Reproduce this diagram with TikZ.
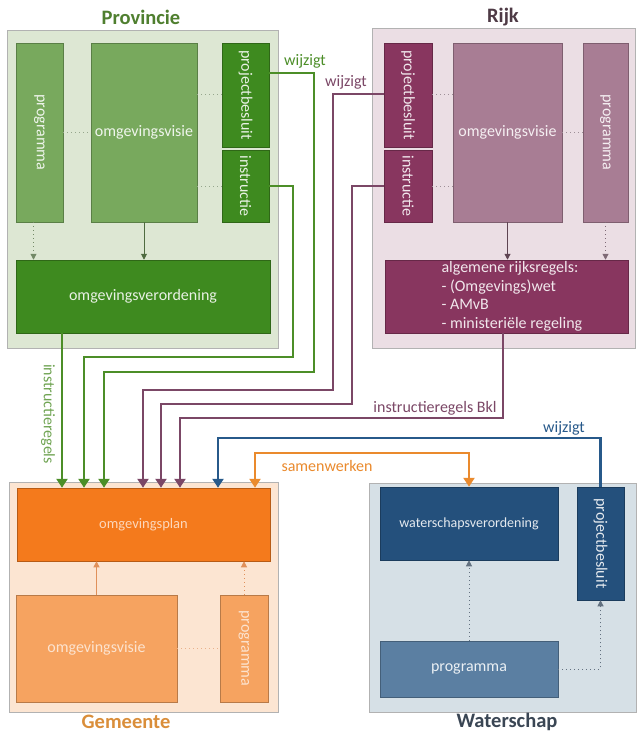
\documentclass[tikz,border=0pt]{standalone}
\usepackage{fontspec}
\setmainfont{Carlito}
\usepackage{graphicx}
\usetikzlibrary{arrows.meta,calc}

\definecolor{provbg}{HTML}{DDE7D3}
\definecolor{provmid}{HTML}{78A95D}
\definecolor{provdark}{HTML}{3E8A1F}
\definecolor{provlijn}{HTML}{4C8E28}
\definecolor{provink}{HTML}{4F6B40}
\definecolor{provtitel}{HTML}{4F7F2F}
\definecolor{rijkbg}{HTML}{EBDEE4}
\definecolor{rijkmid}{HTML}{A87D94}
\definecolor{rijkdark}{HTML}{88365F}
\definecolor{rijklijn}{HTML}{7B4766}
\definecolor{rijkink}{HTML}{5E4452}
\definecolor{rijktitel}{HTML}{4E3A45}
\definecolor{gembg}{HTML}{FCE5D2}
\definecolor{gemmid}{HTML}{F6A360}
\definecolor{gemdark}{HTML}{F47A1C}
\definecolor{gemlijn}{HTML}{EA8A2D}
\definecolor{gemink}{HTML}{E0905A}
\definecolor{gemtitel}{HTML}{DA8E3A}
\definecolor{wsbg}{HTML}{D6E0E6}
\definecolor{wsmid}{HTML}{5B7FA2}
\definecolor{wsdark}{HTML}{24507C}
\definecolor{wslijn}{HTML}{27598A}
\definecolor{wsink}{HTML}{3C4E60}
\definecolor{wstitel}{HTML}{3A4654}

\newcommand{\vtxt}[1]{\rotatebox{-90}{#1}}

\tikzset{
    sz/.style 2 args={minimum width=#1, minimum height=#2},
    panel/.style={fill=#1, draw=black!30, line width=0.8pt, inner sep=0pt},
    box/.style={fill=#1, draw=#1!75!black, line width=0.5pt, inner sep=0pt, text=white!88!#1, font=\fontsize{16}{18.5}\selectfont},
    titel/.style={text=#1, font=\fontsize{20.5}{24}\selectfont\bfseries},
    lbl/.style={text=#1, font=\fontsize{16}{18.5}\selectfont},
    verbind/.style={draw=#1, line width=2.8pt, -{Triangle[width=11pt,length=9pt]}},
    pijl/.style={draw=#1, line width=1pt, -{Triangle[width=6pt,length=6pt]}},
    stip/.style={draw=#1, line width=1pt, dash pattern=on 1.2pt off 2.8pt}
}

\begin{document}
\begin{tikzpicture}[x=1pt,y=-1pt]
            \fill[white] (0,0) rectangle (637,733);
            \useasboundingbox (0,0) rectangle (637,733);
            \node[panel=provbg, sz={271}{318}] at (142.5,189) (Prov) {};
            \node[panel=rijkbg, sz={263}{320}] at (503.5,188) (Rijk) {};
            \node[panel=gembg, sz={269}{230}] at (143.5,597) (Gem) {};
            \node[panel=wsbg, sz={267}{229}] at (502.5,597.5) (Ws) {};
            \node[titel=provtitel] at (141,17) (ProvTitel) {Provincie};
            \node[titel=rijktitel] at (503,17) (RijkTitel) {Rijk};
            \node[titel=gemtitel] at (126,722) (GemTitel) {Gemeente};
            \node[titel=wstitel] at (507,722) (WsTitel) {Waterschap};
            \node[box=provmid, sz={47}{179}] at (39.5,132.5) (Pprog) {\vtxt{programma}};
            \node[box=provmid, sz={106}{179}] at (144,132.5) (Pvisie) {omgevingsvisie};
            \node[box=provdark, sz={47}{104}] at (245.5,95) (Pproj) {\vtxt{projectbesluit}};
            \node[box=provdark, sz={47}{72}] at (245.5,186) (Pinstr) {\vtxt{instructie}};
            \node[box=provdark, sz={254}{73}] at (143,296.5) (Pverord) {omgevingsverordening};
            \node[box=rijkdark, sz={48}{104}] at (408,95) (Rproj) {\vtxt{projectbesluit}};
            \node[box=rijkdark, sz={48}{72}] at (408,186) (Rinstr) {\vtxt{instructie}};
            \node[box=rijkmid, sz={109}{179}] at (507.5,132.5) (Rvisie) {omgevingsvisie};
            \node[box=rijkmid, sz={45}{179}] at (605.5,132.5) (Rprog) {\vtxt{programma}};
            \node[box=rijkdark, sz={243}{73}] at (506.5,296.5) (Rregels) {};
            \node[lbl=white!88!rijkdark, align=left, anchor=west] at (438,296.5) (RregelsTekst) {algemene rijksregels:\\- (Omgevings)wet\\- AMvB\\- ministeriële regeling};
            \node[box=gemdark, text=white!70!gemdark, font=\fontsize{14.5}{18}\selectfont, sz={253}{73}] at (143.5,524.5) (Gplan) {omgevingsplan};
            \node[box=gemmid, text=white!70!gemmid, sz={161}{107}] at (96.5,648.5) (Gvisie) {omgevingsvisie};
            \node[box=gemmid, text=white!70!gemmid, sz={48}{107}] at (244,648.5) (Gprog) {\vtxt{programma}};
            \node[box=wsdark, font=\fontsize{14}{18}\selectfont, sz={178}{73}] at (469,523.5) (Wverord) {waterschapsverordening};
            \node[box=wsdark, sz={47}{113}] at (600.5,543.5) (Wproj) {\vtxt{projectbesluit}};
            \node[box=wsmid, sz={178}{56}] at (469,669) (Wprog) {programma};
            \draw[stip=provink!60] (Pprog) -- (Pvisie);
            \draw[stip=provink!60] (Pvisie.east |- Pproj) -- (Pproj);
            \draw[stip=provink!60] (Pvisie.east |- Pinstr) -- (Pinstr);
            \draw[pijl=provink, stip=provink!80] ([xshift=-6pt]Pprog.south) -- ([xshift=-6pt]Pprog.south |- Pverord.north);
            \draw[pijl=provink] (Pvisie) -- (Pvisie |- Pverord.north);
            \draw[stip=rijkink!60] (Rproj) -- (Rvisie.west |- Rproj);
            \draw[stip=rijkink!60] (Rinstr) -- (Rvisie.west |- Rinstr);
            \draw[stip=rijkink!60] (Rvisie) -- (Rprog);
            \draw[pijl=rijkink] (Rvisie) -- (Rvisie |- Rregels.north);
            \draw[pijl=rijkink, stip=rijkink!80] (Rprog) -- (Rprog |- Rregels.north);
            \draw[pijl=gemink] (Gvisie) -- (Gvisie |- Gplan.south);
            \draw[pijl=gemink, stip=gemink] (Gprog) -- (Gprog |- Gplan.south);
            \draw[stip=gemink!70] (Gvisie) -- (Gprog);
            \draw[pijl=wsink, stip=wsink!80] (Wprog) -- (Wprog |- Wverord.south);
            \draw[pijl=wsink, stip=wsink!80] (Wprog) -| (Wproj);
            \coordinate (in1) at (62,0);
            \coordinate (in2) at (84,0);
            \coordinate (in3) at (104,0);
            \coordinate (in4) at (143,0);
            \coordinate (in5) at (161,0);
            \coordinate (in6) at (180,0);
            \coordinate (in7) at (218,0);
            \coordinate (in8) at (255,0);
            \draw[verbind=provlijn] (Pverord.south -| in1) -- (in1 |- Gplan.north);
            \draw[verbind=provlijn] (Pinstr.east) -| (293,357) -| (in2 |- Gplan.north);
            \draw[verbind=provlijn] ([yshift=22pt]Pproj.east) -| (314,372) -| (in3 |- Gplan.north);
            \draw[verbind=rijklijn] ([yshift=1pt]Rproj.west) -| (333,390) -| (in4 |- Gplan.north);
            \draw[verbind=rijklijn] (Rinstr.west) -| (352,404) -| (in5 |- Gplan.north);
            \draw[verbind=rijklijn] ([xshift=-3.5pt]Rregels.south) |- (180,418) -- (in6 |- Gplan.north);
            \draw[verbind=wslijn] (Wproj.north) |- (218,438) -- (in7 |- Gplan.north);
            \draw[verbind=gemlijn, {Triangle[width=11pt,length=9pt]}-{Triangle[width=11pt,length=9pt]}] (in8 |- Gplan.north) |- (469,453) -- (Wverord.north);
            \node[lbl=provlijn] at (305,61) (WijzigtP) {wijzigt};
            \node[lbl=rijklijn] at (346,82) (WijzigtR) {wijzigt};
            \node[lbl=provlijn!80, rotate=-90] at (48,414) (InstrP) {instructieregels};
            \node[lbl=rijklijn] at (435,408) (InstrR) {instructieregels Bkl};
            \node[lbl=wslijn] at (564,428) (WijzigtW) {wijzigt};
            \node[lbl=gemlijn] at (327,466) (Samen) {samenwerken};
\end{tikzpicture}
\end{document}
